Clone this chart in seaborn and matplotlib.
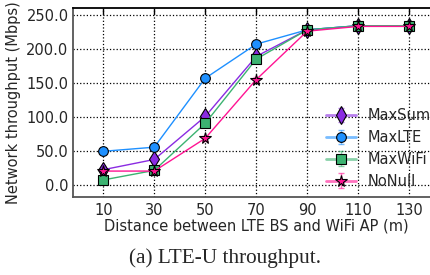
import matplotlib
matplotlib.use('Agg')
import matplotlib.pyplot as plt
from matplotlib.lines import Line2D
from matplotlib.legend_handler import HandlerTuple
from matplotlib.ticker import FormatStrFormatter
import pandas as pd
import seaborn as sns

# values
distances = [10, 30, 50, 70, 90, 110, 130]
schemes = ['MaxSum', 'MaxLTE', 'MaxWiFi', 'NoNull']
max_sum = [23, 38, 101, 189, 228, 234, 234]
max_lte = [50, 56, 157, 207, 228, 234, 234]
max_wifi = [8, 22, 91, 185, 228, 234, 234]
no_null = [21, 21, 69, 155, 226, 233, 233]
err_sum = [4, 4, 5, 4, 2, 1, 1]
err_lte = [3, 3, 4, 3, 3, 2, 2]
err_wifi = [3, 3, 4, 4, 3, 2, 2]
err_null = [4, 3, 4, 4, 3, 2, 2]

colors = {'MaxSum': '#8a2be2', 'MaxLTE': '#1e90ff', 'MaxWiFi': '#3cb371', 'NoNull': '#ff1493'}
markers = {'MaxSum': 'd', 'MaxLTE': 'o', 'MaxWiFi': 's', 'NoNull': '*'}
msizes = {'MaxSum': 8, 'MaxLTE': 7, 'MaxWiFi': 7, 'NoNull': 8.5}
leg_sizes = {'MaxSum': 9, 'MaxLTE': 7, 'MaxWiFi': 7, 'NoNull': 8.5}

rows = []
for name, vals, errs in zip(schemes, [max_sum, max_lte, max_wifi, no_null],
                            [err_sum, err_lte, err_wifi, err_null]):
    for d, v, e in zip(distances, vals, errs):
        rows.append({'distance': d, 'throughput': v, 'err': e, 'scheme': name})
df = pd.DataFrame(rows)

sns.set_style('white')
plt.rcParams['font.family'] = ['DejaVu Sans']

fig = plt.figure(figsize=(4.31, 2.75), dpi=100)
ax = fig.add_axes([0.1687, 0.2836, 0.8515, 0.6874])

sns.lineplot(data=df, x='distance', y='throughput', hue='scheme', style='scheme',
             hue_order=schemes, style_order=schemes, palette=colors, markers=markers,
             dashes=False, linewidth=1, markeredgecolor='black', markeredgewidth=0.8,
             legend=False, ax=ax)
for line, name in zip(ax.lines, schemes):
    line.set_markersize(msizes[name])

handles = []
for name in schemes:
    sub = df[df['scheme'] == name]
    eb = ax.errorbar(sub['distance'], sub['throughput'], yerr=sub['err'], fmt='none',
                     ecolor=colors[name], elinewidth=1, capsize=2.5, alpha=0.6, zorder=1)
    h_line = Line2D([], [], color=colors[name], lw=2, alpha=0.6)
    h_mark = Line2D([], [], color=colors[name], marker=markers[name], ls='none',
                    ms=leg_sizes[name], mec='black', mew=0.8)
    handles.append((h_line, eb, h_mark))

ax.set_xlim(-2, 142)
ax.set_ylim(-17, 260)
ax.set_xticks(distances)
ax.set_yticks([0, 50, 100, 150, 200, 250])
ax.yaxis.set_major_formatter(FormatStrFormatter('%.1f'))
ax.tick_params(labelsize=10.5, direction='in', length=4, width=1, color='black',
               top=True, right=True, pad=3)
ax.tick_params(axis='x', pad=4)
ax.grid(True, linestyle=':', color='black', linewidth=0.9)
for side, s in ax.spines.items():
    s.set_linewidth(1.3)
    s.set_color('black' if side in ('top', 'right') else '#555555')
ax.set_xlabel('Distance between LTE BS and WiFi AP (m)', fontsize=10.5, labelpad=1)
ax.set_ylabel('Network throughput (Mbps)', fontsize=10.5, labelpad=4)

fig.legend(handles, schemes, handler_map={tuple: HandlerTuple(ndivide=1)},
           loc='upper left', bbox_to_anchor=(0.756, 0.607), frameon=False,
           borderpad=0, borderaxespad=0, fontsize=10.5, handlelength=2.1,
           handletextpad=0.75, labelspacing=0.47)

fig.text(0.522, 0.062, '(a) LTE-U throughput.', ha='center', va='center',
         family='Liberation Serif', fontsize=15.3)

fig.savefig('out.png', dpi=100)
